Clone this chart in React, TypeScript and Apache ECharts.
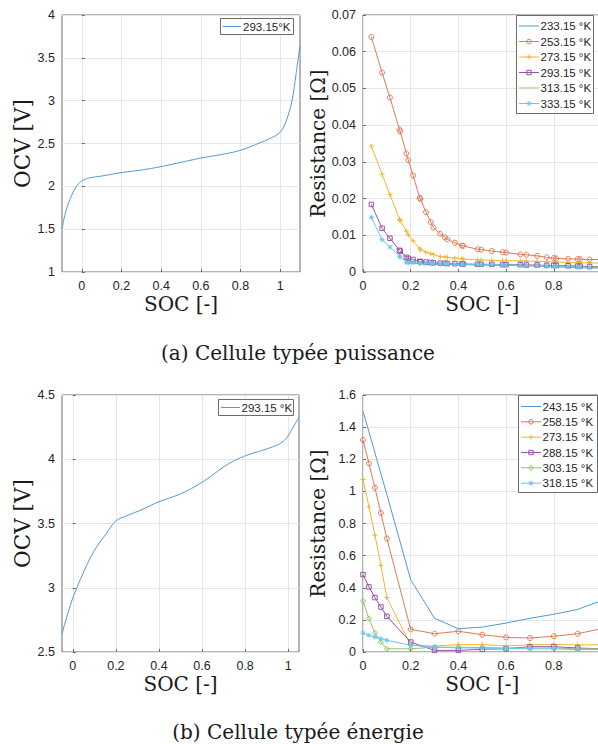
import React, { useEffect, useRef } from 'react';
import * as echarts from 'echarts';

// ---------- (a) power cell: OCV ----------
const socOcvA = [-0.1, -0.09, -0.07, -0.05, -0.03, 0, 0.04, 0.1, 0.2, 0.3, 0.4, 0.5, 0.6, 0.7, 0.8, 0.9, 0.95, 1.0, 1.03, 1.06, 1.08, 1.1];
const ocvA = [1.5, 1.62, 1.79, 1.9, 1.99, 2.065, 2.1, 2.12, 2.16, 2.19, 2.23, 2.28, 2.33, 2.37, 2.42, 2.51, 2.56, 2.63, 2.76, 3.0, 3.31, 3.64];

// ---------- (a) power cell: resistance ----------
const socResA = [0.035, 0.08, 0.113, 0.153, 0.156, 0.182, 0.19, 0.21, 0.238, 0.241, 0.264, 0.284, 0.295, 0.324, 0.344, 0.354, 0.385, 0.415, 0.42, 0.48, 0.495, 0.54, 0.585, 0.6, 0.66, 0.685, 0.73, 0.77, 0.8, 0.81, 0.86, 0.9, 0.91, 0.95, 1.0];
const resA233 = [null, null, null, null, null, 0.0025, 0.0024, 0.0024, 0.0023, 0.0023, 0.0022, 0.0022, 0.0022, 0.0021, 0.0021, 0.0021, 0.002, 0.002, 0.002, 0.0019, 0.0019, 0.0019, 0.0018, 0.0018, 0.0017, 0.0017, 0.0016, 0.0015, 0.0014, 0.0014, 0.0013, 0.0012, 0.0012, 0.0011, 0.0011];
const resA253 = [0.064, 0.0543, 0.0475, 0.0388, 0.0383, 0.0323, 0.0305, 0.0263, 0.0202, 0.0199, 0.0163, 0.0136, 0.0121, 0.0104, 0.0094, 0.0089, 0.008, 0.0072, 0.0071, 0.0062, 0.0061, 0.0057, 0.0054, 0.0053, 0.0048, 0.0047, 0.0044, 0.004, 0.0038, 0.0037, 0.0036, 0.0035, 0.0035, 0.0034, 0.0034];
const resA273 = [0.0343, 0.0266, 0.0211, 0.0143, 0.014, 0.0111, 0.0101, 0.0085, 0.0063, 0.0061, 0.0054, 0.005, 0.0048, 0.0042, 0.0041, 0.004, 0.0038, 0.0036, 0.0035, 0.0033, 0.0033, 0.0032, 0.0031, 0.0031, 0.003, 0.003, 0.0029, 0.0028, 0.0027, 0.0027, 0.0026, 0.0025, 0.0025, 0.0025, 0.0024];
const resA293 = [0.0184, 0.0119, 0.0092, 0.0059, 0.0057, 0.004, 0.0037, 0.0034, 0.0029, 0.0028, 0.0027, 0.0026, 0.0025, 0.0024, 0.0024, 0.0023, 0.0023, 0.0022, 0.0022, 0.0021, 0.0021, 0.0021, 0.002, 0.002, 0.002, 0.0019, 0.0019, 0.0018, 0.0018, 0.0018, 0.0017, 0.0016, 0.0016, 0.0015, 0.0015];
const resA313 = [null, null, null, null, null, 0.0039, 0.0036, 0.0033, 0.0028, 0.0027, 0.0026, 0.0025, 0.0024, 0.0023, 0.0023, 0.0022, 0.0022, 0.0021, 0.0021, 0.002, 0.002, 0.002, 0.0019, 0.0019, 0.0019, 0.0018, 0.0018, 0.0017, 0.0017, 0.0017, 0.0016, 0.0015, 0.0015, 0.0014, 0.0014];
const resA333 = [0.0149, 0.0088, 0.0068, 0.0043, 0.0041, 0.0026, 0.0025, 0.0025, 0.0024, 0.0024, 0.0023, 0.0023, 0.0023, 0.0022, 0.0022, 0.0022, 0.0021, 0.0021, 0.0021, 0.002, 0.002, 0.002, 0.0019, 0.0019, 0.0018, 0.0018, 0.0017, 0.0016, 0.0015, 0.0015, 0.0014, 0.0013, 0.0013, 0.0012, 0.0012];

// ---------- (b) energy cell: OCV ----------
const socOcvB = [-0.05, -0.03, 0, 0.047, 0.1, 0.155, 0.2, 0.25, 0.31, 0.4, 0.5, 0.6, 0.7, 0.75, 0.806, 0.9, 0.96, 0.99, 1.02, 1.05];
const ocvB = [2.64, 2.76, 2.92, 3.11, 3.29, 3.42, 3.52, 3.56, 3.6, 3.67, 3.73, 3.82, 3.94, 3.99, 4.03, 4.08, 4.12, 4.16, 4.24, 4.33];

// ---------- (b) energy cell: resistance ----------
const socResB = [0, 0.025, 0.05, 0.075, 0.1, 0.2, 0.3, 0.4, 0.5, 0.6, 0.7, 0.8, 0.9, 1.0];
const resB243 = [1.5, null, null, null, 0.98, 0.45, 0.21, 0.145, 0.155, 0.18, 0.21, 0.235, 0.265, 0.32];
const resB258 = [1.32, 1.174, 1.022, 0.866, 0.707, 0.141, 0.114, 0.129, 0.108, 0.091, 0.087, 0.098, 0.114, 0.145];
const resB273 = [1.074, 0.904, 0.727, 0.54, 0.339, 0.042, 0.037, 0.046, 0.046, 0.038, 0.045, 0.047, 0.044, 0.045];
const resB288 = [0.482, 0.405, 0.339, 0.28, 0.222, 0.062, 0.01, 0.01, 0.017, 0.02, 0.033, 0.033, 0.025, 0.02];
const resB303 = [0.318, 0.208, 0.12, 0.062, 0.02, 0.02, 0.03, 0.03, 0.028, 0.025, 0.025, 0.025, 0.02, 0.02];
const resB318 = [0.118, 0.104, 0.093, 0.083, 0.073, 0.042, 0.03, 0.026, 0.024, 0.022, 0.02, 0.02, 0.015, 0.015];

// ---------- labels ----------
const labelsA = ['233.15 °K', '253.15 °K', '273.15 °K', '293.15 °K', '313.15 °K', '333.15 °K'];
const labelsB = ['243.15 °K', '258.15 °K', '273.15 °K', '288.15 °K', '303.15 °K', '318.15 °K'];
const ocvLabelA = '293.15°K';
const ocvLabelB = '293.15 °K';
const captionA = '(a) Cellule typée puissance';
const captionB = '(b) Cellule typée énergie';
const xTicks = [0, 0.2, 0.4, 0.6, 0.8, 1];

const COLORS = ['#4f9ad6', '#e07a55', '#efb634', '#9356a3', '#93c26a', '#6cc6ee'];
const PLUS = 'path://M4 0 L4 8 M0 4 L8 4';
const STAR = 'path://M4 0 L4 8 M0 4 L8 4 M1.2 1.2 L6.8 6.8 M6.8 1.2 L1.2 6.8';
const SYMBOLS_A = ['none', 'circle', PLUS, 'rect', 'none', STAR];
const SYMBOLS_B = ['none', 'circle', PLUS, 'rect', 'diamond', STAR];
const SIZES = [0, 5, 5, 4.5, 5, 5];

const SANS = '"Liberation Sans", Arial, sans-serif';
const SERIF = '"DejaVu Serif", serif';
const AXIS_COLOR = '#6b6b6b';
const GRID_COLOR = '#e6e6e6';
const TEXT_COLOR = '#262626';

function pair(xs: number[], ys: (number | null)[]) {
  return xs.map((x, i) => [x, ys[i]]);
}

// legend marker drawn with graphic primitives
function legendMarker(sym: string, cx: number, cy: number, c: string): any[] {
  const st = { stroke: c, lineWidth: 1, fill: 'none' };
  const z = 101;
  if (sym === 'circle') return [{ type: 'circle', z, shape: { cx, cy, r: 2.3 }, style: st }];
  if (sym === 'rect') return [{ type: 'rect', z, shape: { x: cx - 2.2, y: cy - 2.2, width: 4.4, height: 4.4 }, style: st }];
  if (sym === 'diamond') return [{ type: 'polygon', z, shape: { points: [[cx, cy - 2.6], [cx + 2.2, cy], [cx, cy + 2.6], [cx - 2.2, cy]] }, style: st }];
  if (sym === PLUS) return [
    { type: 'line', z, shape: { x1: cx - 2.5, y1: cy, x2: cx + 2.5, y2: cy }, style: st },
    { type: 'line', z, shape: { x1: cx, y1: cy - 2.5, x2: cx, y2: cy + 2.5 }, style: st },
  ];
  if (sym === STAR) return [
    { type: 'line', z, shape: { x1: cx - 2.5, y1: cy, x2: cx + 2.5, y2: cy }, style: st },
    { type: 'line', z, shape: { x1: cx, y1: cy - 2.5, x2: cx, y2: cy + 2.5 }, style: st },
    { type: 'line', z, shape: { x1: cx - 1.8, y1: cy - 1.8, x2: cx + 1.8, y2: cy + 1.8 }, style: st },
    { type: 'line', z, shape: { x1: cx + 1.8, y1: cy - 1.8, x2: cx - 1.8, y2: cy + 1.8 }, style: st },
  ];
  return [];
}

function legendBox(
  box: { x: number; y: number; w: number; h: number },
  lineX: [number, number],
  textX: number,
  rowY: number[],
  labels: string[],
  syms: string[],
): any[] {
  const els: any[] = [
    { type: 'rect', z: 100, shape: { x: box.x + 0.5, y: box.y + 0.5, width: box.w, height: box.h }, style: { fill: '#fff', stroke: AXIS_COLOR, lineWidth: 1 } },
  ];
  labels.forEach((lab, k) => {
    const y = rowY[k];
    els.push({ type: 'line', z: 101, shape: { x1: lineX[0], y1: y, x2: lineX[1], y2: y }, style: { stroke: COLORS[k], lineWidth: 1 } });
    els.push(...legendMarker(syms[k], (lineX[0] + lineX[1]) / 2, y, COLORS[k]));
    els.push({ type: 'text', z: 101, x: textX, y, style: { text: lab, fontFamily: SANS, fontSize: 11.5, fill: TEXT_COLOR, align: 'left', verticalAlign: 'middle' } });
  });
  return els;
}

export default function App() {
  const ref = useRef<HTMLDivElement>(null);

  useEffect(() => {
    if (!ref.current) return;
    const chart = echarts.init(ref.current, undefined, { renderer: 'svg' });

    const grids = [
      { left: 62, top: 15, width: 238, height: 257 },
      { left: 363, top: 15, width: 238.5, height: 257 },
      { left: 62, top: 395, width: 237, height: 257 },
      { left: 363, top: 395, width: 238.5, height: 257 },
    ].map((g) => ({ ...g, show: true, borderColor: AXIS_COLOR, borderWidth: 1, backgroundColor: '#fff', containLabel: false, outerBoundsMode: 'none' }));

    const nameStyle = { fontFamily: SERIF, fontSize: 20, color: '#1a1a1a' };
    const ocvNameStyle = { fontFamily: SERIF, fontSize: 21.5, color: '#1a1a1a' };
    const labelStyle = { fontFamily: SANS, fontSize: 12.5, color: TEXT_COLOR, margin: 7 };

    const xAxisCustom = (gridIndex: number, min: number, max: number) => ({
      gridIndex, type: 'value', min, max,
      name: 'SOC [-]', nameLocation: 'middle', nameGap: 22, nameTextStyle: nameStyle,
      axisLine: { show: false },
      axisTick: { show: true, inside: true, length: 3, customValues: xTicks, lineStyle: { color: AXIS_COLOR } },
      axisLabel: { ...labelStyle, customValues: xTicks },
      splitLine: { show: true, customValues: xTicks, lineStyle: { color: GRID_COLOR, width: 1 } },
    });
    const xAxisPlain = (gridIndex: number) => ({
      gridIndex, type: 'value', min: 0, max: 1, interval: 0.2,
      name: 'SOC [-]', nameLocation: 'middle', nameGap: 22, nameTextStyle: nameStyle,
      axisLine: { show: false },
      axisTick: { show: true, inside: true, length: 3, lineStyle: { color: AXIS_COLOR } },
      axisLabel: { ...labelStyle, showMaxLabel: false },
      splitLine: { show: true, lineStyle: { color: GRID_COLOR, width: 1 } },
    });
    const yAxis = (gridIndex: number, min: number, max: number, interval: number, name: string, nameGap: number, ns: any) => ({
      gridIndex, type: 'value', min, max, interval,
      name, nameLocation: 'middle', nameGap, nameTextStyle: ns,
      axisLine: { show: false },
      axisTick: { show: true, inside: true, length: 3, lineStyle: { color: AXIS_COLOR } },
      axisLabel: labelStyle,
      splitLine: { show: true, lineStyle: { color: GRID_COLOR, width: 1 } },
    });

    const series: any[] = [];
    series.push({
      name: ocvLabelA, type: 'line', xAxisIndex: 0, yAxisIndex: 0, data: pair(socOcvA, ocvA),
      smooth: 0.3, showSymbol: false, symbol: 'none', lineStyle: { color: COLORS[0], width: 1 },
    });
    [resA233, resA253, resA273, resA293, resA313, resA333].forEach((arr, k) => {
      series.push({
        name: 'A ' + labelsA[k], type: 'line', xAxisIndex: 1, yAxisIndex: 1, data: pair(socResA, arr),
        symbol: SYMBOLS_A[k], symbolSize: SIZES[k], showSymbol: SYMBOLS_A[k] !== 'none', connectNulls: true,
        lineStyle: { color: COLORS[k], width: 1 },
        itemStyle: { color: 'transparent', borderColor: COLORS[k], borderWidth: 1 },
      });
    });
    series.push({
      name: ocvLabelB, type: 'line', xAxisIndex: 2, yAxisIndex: 2, data: pair(socOcvB, ocvB),
      smooth: 0.3, showSymbol: false, symbol: 'none', lineStyle: { color: COLORS[0], width: 1 },
    });
    [resB243, resB258, resB273, resB288, resB303, resB318].forEach((arr, k) => {
      series.push({
        name: 'B ' + labelsB[k], type: 'line', xAxisIndex: 3, yAxisIndex: 3, data: pair(socResB, arr),
        symbol: SYMBOLS_B[k], symbolSize: SIZES[k], showSymbol: SYMBOLS_B[k] !== 'none', connectNulls: true,
        lineStyle: { color: COLORS[k], width: 1 },
        itemStyle: { color: 'transparent', borderColor: COLORS[k], borderWidth: 1 },
      });
    });

    const rowsTR = [26, 41.5, 57, 72.5, 88, 103.5];
    const rowsBR = [406.5, 421.8, 437.2, 452.5, 467.8, 483.2];

    const graphic: any[] = [
      ...legendBox({ x: 220, y: 18, w: 73, h: 16 }, [223, 241], 243, [26.5], [ocvLabelA], ['none']),
      ...legendBox({ x: 516, y: 15, w: 77, h: 98 }, [519, 539], 540.5, rowsTR, labelsA, SYMBOLS_A),
      ...legendBox({ x: 218, y: 399, w: 75, h: 16 }, [221, 240], 241.5, [407.5], [ocvLabelB], ['none']),
      ...legendBox({ x: 518, y: 395, w: 79, h: 97 }, [521, 541], 542.5, rowsBR, labelsB, SYMBOLS_B),
      { type: 'text', x: 298, y: 353, style: { text: captionA, fontFamily: SERIF, fontSize: 20, fill: '#1a1a1a', align: 'center', verticalAlign: 'middle' } },
      { type: 'text', x: 298, y: 732, style: { text: captionB, fontFamily: SERIF, fontSize: 20, fill: '#1a1a1a', align: 'center', verticalAlign: 'middle' } },
    ];

    chart.setOption({
      animation: false,
      backgroundColor: '#fff',
      grid: grids,
      xAxis: [xAxisCustom(0, -0.1, 1.1), xAxisPlain(1), xAxisCustom(2, -0.05, 1.05), xAxisPlain(3)],
      yAxis: [
        yAxis(0, 1, 4, 0.5, 'OCV [V]', 28, ocvNameStyle),
        yAxis(1, 0, 0.07, 0.01, 'Resistance [Ω]', 35, nameStyle),
        yAxis(2, 2.5, 4.5, 0.5, 'OCV [V]', 28, ocvNameStyle),
        yAxis(3, 0, 1.6, 0.2, 'Resistance [Ω]', 35, nameStyle),
      ],
      graphic,
      series,
    });

    return () => chart.dispose();
  }, []);

  return (
    <div
      ref={ref}
      style={{ position: 'absolute', left: 0, top: 0, width: 598, height: 744, background: '#fff' }}
    />
  );
}
